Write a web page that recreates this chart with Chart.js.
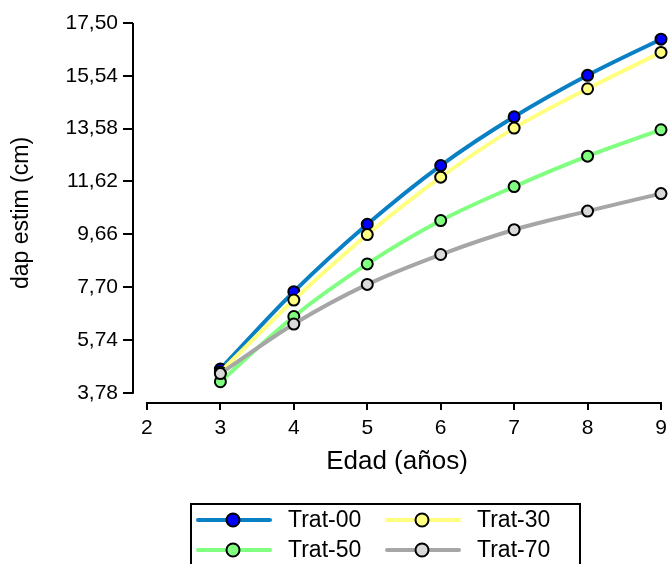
<!DOCTYPE html>
<html>
<head>
<meta charset="utf-8">
<script src="https://cdn.jsdelivr.net/npm/chart.js@4.4.1/dist/chart.umd.min.js"></script>
<style>
  html, body { margin: 0; padding: 0; background: #fff; }
</style>
</head>
<body>
<canvas id="dapChart" width="669" height="564"></canvas>
<script>
const edades = [3, 4, 5, 6, 7, 8, 9];
const trat00 = [4.66, 7.53, 10.03, 12.21, 14.02, 15.56, 16.90];
const trat30 = [4.55, 7.22, 9.65, 11.78, 13.60, 15.06, 16.41];
const trat50 = [4.19, 6.61, 8.56, 10.17, 11.43, 12.56, 13.54];
const trat70 = [4.49, 6.33, 7.80, 8.91, 9.83, 10.52, 11.17];

const yTicks = [3.78, 5.74, 7.70, 9.66, 11.62, 13.58, 15.54, 17.50];
const xTicks = [2, 3, 4, 5, 6, 7, 8, 9];

const FONT = '"Liberation Sans", Arial, sans-serif';

function serie(label, values, lineColor, fillColor, order) {
    return {
        label: label,
        data: edades.map((e, i) => ({ x: e, y: values[i] })),
        borderColor: lineColor,
        backgroundColor: fillColor,
        pointBackgroundColor: fillColor,
        pointBorderColor: '#000',
        pointBorderWidth: 2,
        pointRadius: 5.5,
        borderWidth: 4,
        cubicInterpolationMode: 'monotone',
        clip: false,
        order: order
    };
}

// axis lines are offset from each other, so draw them from the scales
const axisLines = {
    id: 'axisLines',
    beforeDatasetsDraw(chart) {
        const { ctx, scales: { x, y }, chartArea } = chart;
        ctx.save();
        ctx.strokeStyle = '#000';
        ctx.lineWidth = 2;
        ctx.beginPath();
        ctx.moveTo(chartArea.left, y.getPixelForValue(yTicks[yTicks.length - 1]));
        ctx.lineTo(chartArea.left, y.getPixelForValue(yTicks[0]) + 1);
        ctx.moveTo(x.getPixelForValue(xTicks[0]) - 1, chartArea.bottom);
        ctx.lineTo(x.getPixelForValue(xTicks[xTicks.length - 1]) + 1, chartArea.bottom);
        ctx.stroke();
        ctx.restore();
    }
};

// boxed two-column legend under the chart
const boxLegend = {
    id: 'boxLegend',
    afterDraw(chart) {
        const ctx = chart.ctx;
        const cols = [198, 387];
        const rows = [520, 550];
        ctx.save();
        ctx.strokeStyle = '#000';
        ctx.lineWidth = 2;
        ctx.strokeRect(191, 504, 389, 70);
        chart.data.datasets.forEach((ds, i) => {
            const lx = cols[i % 2];
            const ly = rows[Math.floor(i / 2)];
            ctx.strokeStyle = ds.borderColor;
            ctx.lineWidth = 4;
            ctx.lineCap = 'round';
            ctx.beginPath();
            ctx.moveTo(lx, ly);
            ctx.lineTo(lx + 72, ly);
            ctx.stroke();
            ctx.beginPath();
            ctx.arc(lx + 35, ly, 6.5, 0, Math.PI * 2);
            ctx.fillStyle = ds.pointBackgroundColor;
            ctx.fill();
            ctx.strokeStyle = '#000';
            ctx.lineWidth = 2;
            ctx.stroke();
            ctx.fillStyle = '#000';
            ctx.font = '23px ' + FONT;
            ctx.textBaseline = 'middle';
            ctx.fillText(ds.label, lx + 90, ly + 1);
        });
        ctx.restore();
    }
};

new Chart(document.getElementById('dapChart'), {
    type: 'line',
    data: {
        datasets: [
            serie('Trat-00', trat00, '#0a80c4', '#0000ff', 3),
            serie('Trat-30', trat30, '#ffff80', '#ffff80', 2),
            serie('Trat-50', trat50, '#80ff80', '#80ff80', 1),
            serie('Trat-70', trat70, '#a6a6a6', '#d9d9d9', 0)
        ]
    },
    plugins: [axisLines, boxLegend],
    options: {
        responsive: false,
        animation: false,
        devicePixelRatio: 1,
        layout: { padding: { top: 23, right: 8, bottom: 87, left: 0 } },
        plugins: {
            legend: { display: false },
            tooltip: { enabled: false }
        },
        scales: {
            x: {
                type: 'linear',
                min: 1.81,
                max: 9,
                afterBuildTicks: s => { s.ticks = xTicks.map(v => ({ value: v })); },
                afterFit: s => { s.height = 74; s.paddingLeft = 0; s.paddingRight = 0; },
                border: { display: false },
                grid: { drawOnChartArea: false, drawTicks: true, tickLength: 7, color: '#000', lineWidth: 2 },
                ticks: { color: '#000', padding: 6, font: { family: FONT, size: 21 }, maxRotation: 0 },
                title: { display: true, text: 'Edad (años)', color: '#000', font: { family: FONT, size: 26 }, padding: { top: 0, bottom: 0 } }
            },
            y: {
                type: 'linear',
                min: 3.40,
                max: 17.50,
                afterBuildTicks: s => { s.ticks = yTicks.map(v => ({ value: v })); },
                afterFit: s => { s.width = 133; },
                border: { display: false },
                grid: { drawOnChartArea: false, drawTicks: true, tickLength: 10, color: '#000', lineWidth: 2 },
                ticks: {
                    color: '#000',
                    padding: 5,
                    font: { family: FONT, size: 21 },
                    callback: v => v.toFixed(2).replace('.', ',')
                },
                title: { display: true, text: 'dap estim (cm)', color: '#000', font: { family: FONT, size: 23 }, padding: { top: 8, bottom: 0 } }
            }
        }
    }
});
</script>
</body>
</html>
